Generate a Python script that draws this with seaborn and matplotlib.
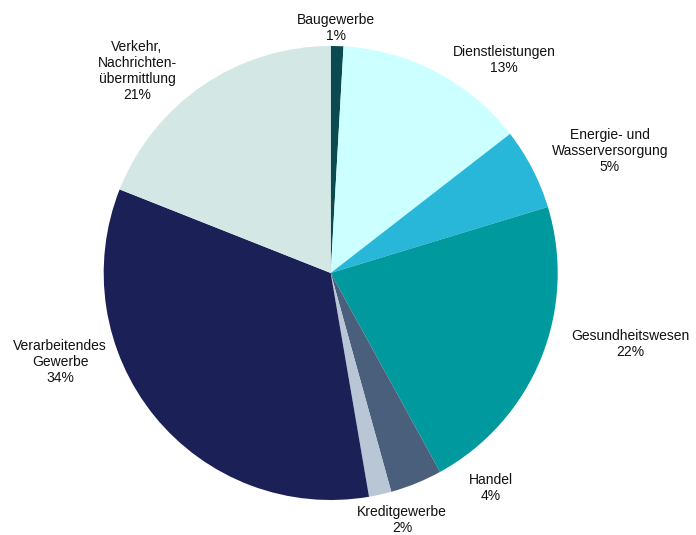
"""
Pie chart: share of sectors (Wirtschaftszweige).
Recreates the reference pie with seaborn styling + matplotlib pie.
"""

import matplotlib
matplotlib.use("Agg")
import matplotlib.pyplot as plt
import seaborn as sns

# Data
SECTORS = [
    "Baugewerbe",
    "Dienstleistungen",
    "Energie- und\nWasserversorgung",
    "Gesundheitswesen",
    "Handel",
    "Kreditgewerbe",
    "Verarbeitendes\nGewerbe",
    "Verkehr,\nNachrichten-\nübermittlung",
]
SHARES = [0.9, 13.6, 5.8, 21.7, 3.7, 1.6, 33.7, 19.0]
PERCENT_LABELS = ["1%", "13%", "5%", "22%", "4%", "2%", "34%", "21%"]
COLORS = [
    "#0b4a4e",
    "#ccffff",
    "#29b7d9",
    "#00999e",
    "#4a5f7b",
    "#b9c6d6",
    "#1b2156",
    "#d3e8e5",
]

# label centres in pixels (x, y from top) - layout only
LABEL_POS = [
    (336, 28), (504, 60), (610, 151), (630, 344),
    (491, 488), (402, 520), (60, 362), (137, 71),
]

FIG_W, FIG_H = 696, 535
CENTER = (330.7, 273.0)
RADIUS = 227.0


def draw_pie() -> None:
    sns.set_style("white")
    plt.rcParams["font.family"] = ["Liberation Sans", "DejaVu Sans"]

    fig = plt.figure(figsize=(FIG_W / 100, FIG_H / 100), dpi=100)
    ax = fig.add_axes([0, 0, 1, 1])

    ax.pie(
        SHARES,
        colors=COLORS,
        startangle=90,
        counterclock=False,
        radius=1.0,
        wedgeprops={"linewidth": 0},
    )

    # map pixels to data units so the pie sits where it does in the reference
    cx, cy = CENTER
    ax.set_xlim(-cx / RADIUS, (FIG_W - cx) / RADIUS)
    ax.set_ylim((cy - FIG_H) / RADIUS, cy / RADIUS)
    ax.set_aspect("equal")
    ax.axis("off")

    for name, pct, (px, py) in zip(SECTORS, PERCENT_LABELS, LABEL_POS):
        fig.text(
            px / FIG_W, 1 - py / FIG_H, f"{name}\n{pct}",
            ha="center", va="center", fontsize=10, color="#111111",
            linespacing=1.2,
        )

    fig.savefig("out.png", dpi=100)


def main() -> None:
    draw_pie()


if __name__ == "__main__":
    main()
